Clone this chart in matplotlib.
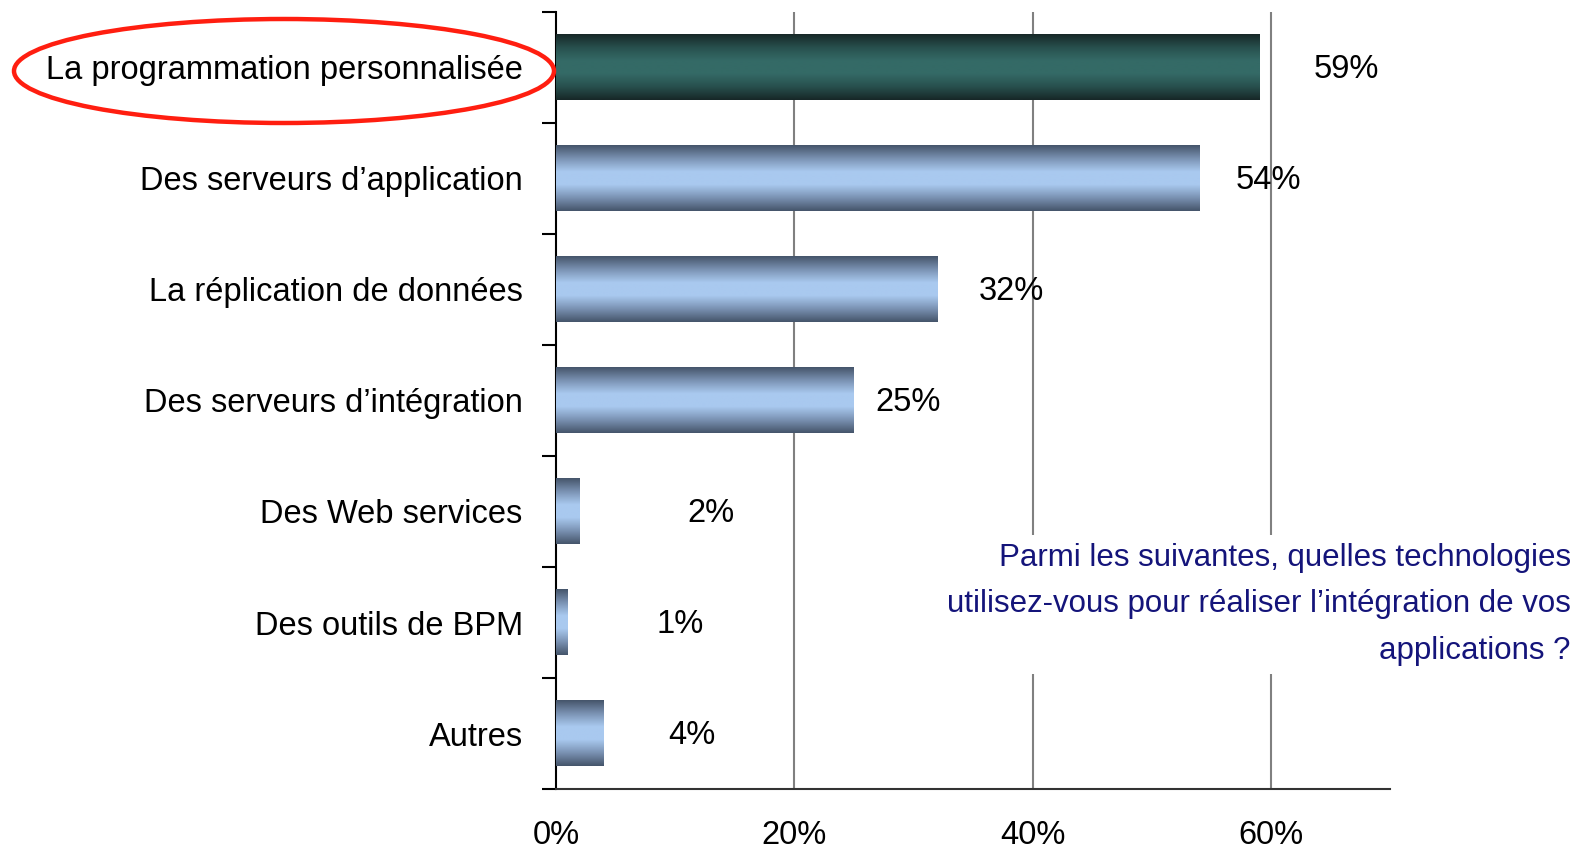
import numpy as np
import matplotlib.pyplot as plt
from matplotlib.colors import LinearSegmentedColormap
from matplotlib.patches import Ellipse

categories = ["La programmation personnalisée", "Des serveurs d\u2019application",
              "La réplication de données", "Des serveurs d\u2019intégration",
              "Des Web services", "Des outils de BPM", "Autres"]
values = [59, 54, 32, 25, 2, 1, 4]
label_offsets = [7.3, 5.8, 6.2, 4.5, 11.0, 9.4, 7.4]
xticks = [0, 20, 40, 60]
question = "Parmi les suivantes, quelles technologies\nutilisez-vous pour réaliser l\u2019intégration de vos\napplications ?"

plt.rcParams['font.family'] = ['Liberation Sans', 'DejaVu Sans']

blue = LinearSegmentedColormap.from_list("b", ["#46566c", "#7b93b4", "#a9c9ef", "#a9c9ef", "#7b93b4", "#46566c"])
green = LinearSegmentedColormap.from_list("g", ["#172828", "#28504e", "#346a66", "#346a66", "#28504e", "#172828"])

fig = plt.figure(figsize=(15.77, 8.49), dpi=100)
ax = fig.add_axes([0.3526, 0.0706, 0.529, 0.9154])

h = 0.59
grad = np.linspace(0, 1, 64).reshape(-1, 1)
for i, v in enumerate(values):
    cmap = green if i == 0 else blue
    ax.imshow(grad, cmap=cmap, aspect='auto', extent=[0, v, i + h / 2, i - h / 2],
              zorder=3, interpolation='bilinear')
    ax.text(v + label_offsets[i], i + 0.02, f"{v}%", ha='center', va='center', fontsize=23.5, zorder=4)

ax.set_xlim(0, 70)
ax.set_ylim(len(values) - 0.5, -0.5)

ax.set_xticks(xticks)
ax.set_xticklabels([f"{t}%" for t in xticks], fontsize=23.5)
ax.tick_params(axis='x', length=0, pad=22)
ax.set_yticks(np.arange(-0.5, len(values), 1))
ax.set_yticklabels([])
ax.tick_params(axis='y', which='major', length=10, width=1.5, direction='out')
ax.set_yticks(np.arange(len(values)), minor=True)
ax.set_yticklabels(categories, minor=True, fontsize=23.5)
ax.tick_params(axis='y', which='minor', length=0, pad=24)

for x in xticks[1:]:
    ax.axvline(x, color='#808080', lw=1.5, zorder=1)

for s in ['top', 'right']:
    ax.spines[s].set_visible(False)
ax.spines['left'].set_linewidth(1.5)
ax.spines['bottom'].set_linewidth(1.5)
ax.spines['bottom'].set_color('#333333')

fig.text(0.996, 0.288, question, ha='right', va='center', fontsize=22.5, color='#14147a',
         linespacing=1.7, zorder=5,
         bbox=dict(facecolor='white', edgecolor='none', pad=6))

ell = Ellipse((284 / 1577, 1 - 71 / 849), 540 / 1577, 104 / 849, transform=fig.transFigure,
              fill=False, edgecolor='#ff1e10', lw=3.2, zorder=6)
fig.add_artist(ell)

fig.savefig("out.png", dpi=100)
